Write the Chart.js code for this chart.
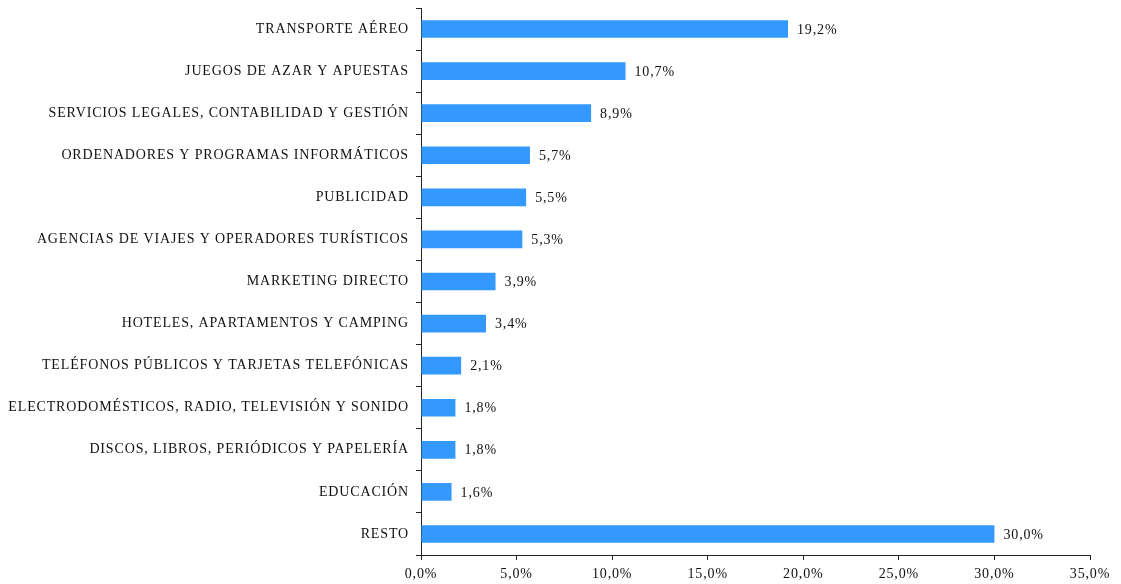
<!DOCTYPE html>
<html>
<head>
<meta charset="utf-8">
<script src="https://cdn.jsdelivr.net/npm/chart.js@4"></script>
<style>
  html, body { margin:0; padding:0; background:#fff; }
  #wrap { width:1121px; height:584px; }
</style>
</head>
<body>
<div id="wrap"><canvas id="c" width="1121" height="584"></canvas></div>
<script>
const categories = [
  'TRANSPORTE AÉREO',
  'JUEGOS DE AZAR Y APUESTAS',
  'SERVICIOS LEGALES, CONTABILIDAD Y GESTIÓN',
  'ORDENADORES Y PROGRAMAS INFORMÁTICOS',
  'PUBLICIDAD',
  'AGENCIAS DE VIAJES Y OPERADORES TURÍSTICOS',
  'MARKETING DIRECTO',
  'HOTELES, APARTAMENTOS Y CAMPING',
  'TELÉFONOS PÚBLICOS Y TARJETAS TELEFÓNICAS',
  'ELECTRODOMÉSTICOS, RADIO, TELEVISIÓN Y SONIDO',
  'DISCOS, LIBROS, PERIÓDICOS Y PAPELERÍA',
  'EDUCACIÓN',
  'RESTO'
];
const shares = [19.2, 10.7, 8.9, 5.7, 5.5, 5.3, 3.9, 3.4, 2.1, 1.8, 1.8, 1.6, 30.0];
const xTicks = [0, 5, 10, 15, 20, 25, 30, 35];

const FONT = '"Liberation Serif", "Times New Roman", serif';
const pct = v => v.toFixed(1).replace('.', ',') + '%';

// the source uses a loosely spaced serif; canvas resizes reset this, so set it on every pass
const spacing = {
  id: 'spacing',
  beforeUpdate(chart){ chart.ctx.letterSpacing = '0.85px'; },
  beforeDraw(chart){ chart.ctx.letterSpacing = '0.85px'; }
};

// value labels at the end of each bar
const barLabels = {
  id: 'barLabels',
  afterDatasetsDraw(chart){
    const c = chart.ctx;
    const meta = chart.getDatasetMeta(0);
    c.save();
    c.font = '14px ' + FONT;
    c.fillStyle = '#111';
    c.textBaseline = 'middle';
    c.textAlign = 'left';
    meta.data.forEach((bar, i) => {
      c.fillText(pct(shares[i]), bar.x + 9, bar.y + 1);
    });
    c.restore();
  }
};

new Chart(document.getElementById('c').getContext('2d'), {
  type: 'bar',
  data: {
    labels: categories,
    datasets: [{
      data: shares,
      backgroundColor: '#3399FF',
      borderWidth: 0,
      categoryPercentage: 1,
      barPercentage: 0.42
    }]
  },
  options: {
    indexAxis: 'y',
    responsive: false,
    animation: false,
    layout: { padding: { top: 8, right: 31, left: 0, bottom: 0 } },
    plugins: { legend: { display: false }, tooltip: { enabled: false } },
    scales: {
      x: {
        min: 0, max: 35,
        afterBuildTicks(scale){ scale.ticks = xTicks.map(v => ({ value: v })); },
        afterFit(scale){ scale.height = 29; scale.paddingLeft = 0; scale.paddingRight = 0; },
        border: { display: true, color: '#222', width: 1 },
        grid: { drawOnChartArea: false, drawTicks: true, tickLength: 5, color: '#222' },
        ticks: {
          color: '#111',
          padding: 6,
          maxRotation: 0,
          font: { family: FONT, size: 14 },
          callback: v => pct(v)
        }
      },
      y: {
        afterFit(scale){ scale.width = 421; scale.paddingTop = 0; scale.paddingBottom = 0; },
        border: { display: true, color: '#222', width: 1 },
        grid: { drawOnChartArea: false, drawTicks: true, tickLength: 5, color: '#222', offset: true },
        ticks: {
          color: '#111',
          padding: 7,
          autoSkip: false,
          font: { family: FONT, size: 14 }
        }
      }
    }
  },
  plugins: [spacing, barLabels]
});
</script>
</body>
</html>
